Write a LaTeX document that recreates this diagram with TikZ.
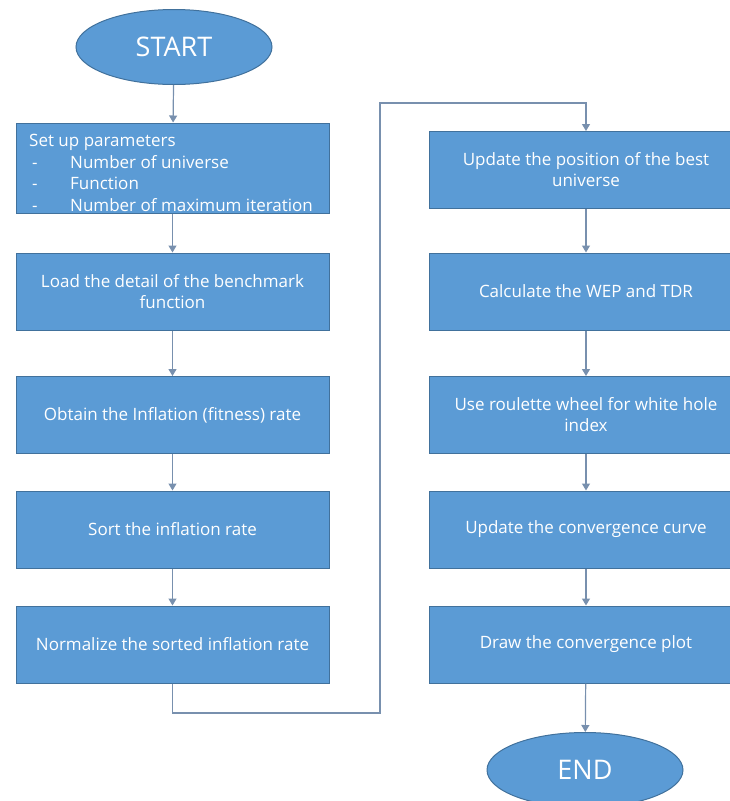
\documentclass[tikz,border=0pt]{standalone}
\usepackage{fontspec}
\setmainfont{Open Sans}
\usetikzlibrary{shapes.geometric,arrows.meta}
\definecolor{boxfill}{HTML}{5B9BD5}
\definecolor{boxline}{HTML}{41719C}
\definecolor{conn}{HTML}{7890AE}
\tikzset{
  stepbox/.style={rectangle, draw=boxline, line width=1pt, fill=boxfill, text=white,
    minimum width=313pt, minimum height=77pt, align=center, font=\fontsize{17}{21}\selectfont, inner sep=0pt},
  term/.style={ellipse, draw=boxline, line width=1pt, fill=boxfill, text=white,
    minimum width=196pt, minimum height=75pt, inner sep=0pt, font=\fontsize{27}{30}\selectfont},
  flow/.style={draw=conn, line width=1.2pt, -{Triangle[width=8pt,length=7pt]}},
}
\begin{document}
\begin{tikzpicture}[x=1pt,y=-1pt]
\useasboundingbox (0,0) rectangle (730,801);
\clip (0,0) rectangle (730,801);
% left column
\node[term] (start) at (174,47) {START};
\node[stepbox, minimum height=90pt] (setup) at (172.5,168) {};
\node[anchor=north west, text=white, font=\fontsize{17}{21.5}\selectfont, align=left, inner sep=0pt] (setuptxt) at (29,134)
 {Set up parameters\\
  \makebox[41pt][l]{\hspace{3pt}-}Number of universe\\
  \makebox[41pt][l]{\hspace{3pt}-}Function\\
  \makebox[41pt][l]{\hspace{3pt}-}Number of maximum iteration};
\node[stepbox] (load) at (172.5,291.5) {Load the detail of the benchmark\\function};
\node[stepbox] (obtain) at (172.5,415) {Obtain the Inflation (fitness) rate};
\node[stepbox] (sort) at (172.5,529.5) {Sort the inflation rate};
\node[stepbox] (norm) at (172.5,644.5) {Normalize the sorted inflation rate};
% right column
\node[stepbox] (upd) at (586,170) {Update the position of the best\\universe};
\node[stepbox] (calc) at (586,291.5) {Calculate the WEP and TDR};
\node[stepbox] (roul) at (586,415) {Use roulette wheel for white hole\\index};
\node[stepbox] (conv) at (586,529.5) {Update the convergence curve};
\node[stepbox] (plot) at (586,644.5) {Draw the convergence plot};
\node[term] (end) at (585,770) {END};
% connectors
\draw[flow] (start) -- (setup);
\draw[flow] (setup) -- (load);
\draw[flow] (load) -- (obtain);
\draw[flow] (obtain) -- (sort);
\draw[flow] (sort) -- (norm);
\coordinate (c1) at (172.5,713);
\coordinate (c2) at (380,713);
\coordinate (c3) at (380,103);
\coordinate (c4) at (586,103);
\draw[flow] (norm.south) -- (c1) -- (c2) -- (c3) -- (c4) -- (upd.north);
\draw[flow] (upd) -- (calc);
\draw[flow] (calc) -- (roul);
\draw[flow] (roul) -- (conv);
\draw[flow] (conv) -- (plot);
\draw[flow] (plot) -- (end);
\end{tikzpicture}
\end{document}
